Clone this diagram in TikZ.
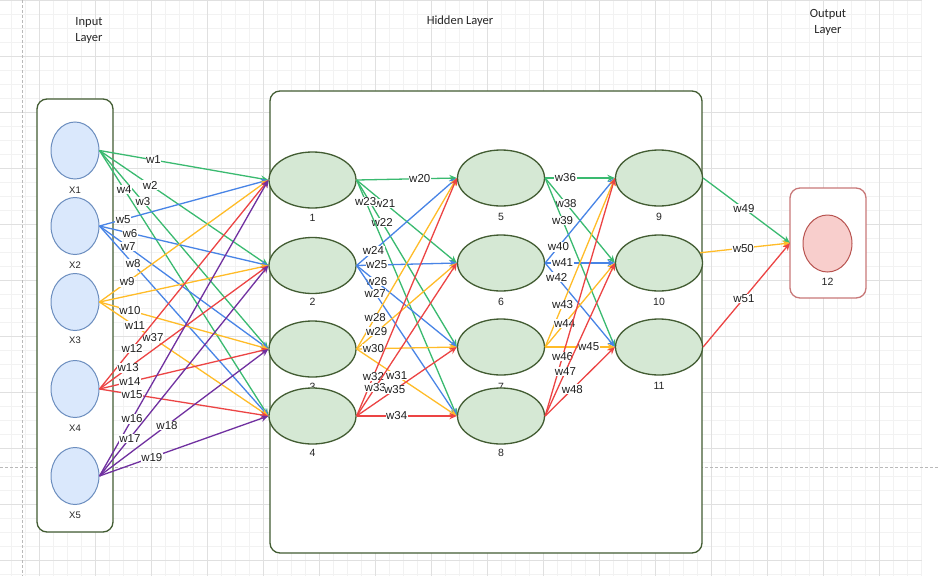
\documentclass[tikz,border=0pt]{standalone}
\usepackage{fontspec}
\setmainfont{Liberation Sans}
\newfontfamily\titlefont{Carlito}
\usetikzlibrary{shapes.geometric,arrows.meta}
\definecolor{cgreen}{RGB}{58,186,112}
\definecolor{cblue}{RGB}{72,132,230}
\definecolor{cyellow}{RGB}{255,188,40}
\definecolor{cred}{RGB}{236,68,68}
\definecolor{cpurple}{RGB}{112,48,160}
\definecolor{boxgreen}{RGB}{66,92,50}
\definecolor{inpfill}{RGB}{218,232,252}
\definecolor{inpstroke}{RGB}{108,142,191}
\definecolor{hidfill}{RGB}{213,232,212}
\definecolor{outfill}{RGB}{248,206,204}
\definecolor{outstroke}{RGB}{184,84,80}
\definecolor{outbox}{RGB}{200,120,120}
\definecolor{gminorc}{RGB}{242,242,242}
\definecolor{gmajorc}{RGB}{224,224,224}
\definecolor{gdashc}{RGB}{185,185,185}
\begin{document}
\begin{tikzpicture}[x=1pt,y=-1pt,
  gminor/.style={draw=gminorc,line width=0.6pt},
  gmajor/.style={draw=gmajorc,line width=0.9pt},
  gdash/.style={draw=gdashc,line width=0.6pt,dash pattern=on 3pt off 2pt},
  layerbox/.style={draw=boxgreen,fill=white,line width=1.3pt,rounded corners=10pt},
  obox/.style={draw=outbox,fill=white,line width=1.3pt,rounded corners=10pt},
  inp/.style={ellipse,draw=inpstroke,fill=inpfill,line width=1pt,minimum width=48pt,minimum height=57pt,inner sep=0pt},
  hid/.style={ellipse,draw=boxgreen,fill=hidfill,line width=1.3pt,minimum width=87pt,minimum height=56pt,inner sep=0pt},
  outn/.style={ellipse,draw=outstroke,fill=outfill,line width=1pt,minimum width=49pt,minimum height=57pt,inner sep=0pt},
  nlab/.style={font=\fontsize{10.5}{12}\selectfont,text=black!85,inner sep=0pt},
  xlab/.style={font=\fontsize{9.5}{11}\selectfont,text=black!85,inner sep=0pt},
  title/.style={font=\titlefont\fontsize{12.5}{16}\selectfont,text=black!85,align=center,inner sep=0pt},
  lab/.style={fill=white,inner sep=0.6pt,font=\fontsize{11.5}{12}\selectfont,text=black!88},
  e/.style={line width=1.3pt,-{Stealth[length=7.5pt,width=6.5pt]}}
]
\useasboundingbox (0,0) rectangle (940,576);
% background grid
\fill[white] (0,0) rectangle (940,576);
\foreach \i in {0,...,65} \draw[gminor] ({11.7+14*\i},0) -- ({11.7+14*\i},576);
\foreach \j in {0,...,41} \draw[gminor] (0,{0.3+14*\j}) -- (922,{0.3+14*\j});
\foreach \i in {0,...,15} \draw[gmajor] ({39.7+56*\i},0) -- ({39.7+56*\i},576);
\foreach \j in {0,...,10} \draw[gmajor] (0,{0.3+56*\j}) -- (922,{0.3+56*\j});
\draw[gdash] (22.7,0) -- (22.7,576);
\draw[gdash] (0,467.3) -- (940,467.3);

% titles
\node[title] (tin) at (89,30) {Input\\Layer};
\node[title] (thid) at (460,21.5) {Hidden Layer};
\node[title] (tout) at (828,22) {Output\\Layer};

% boxes
\draw[layerbox] (37,99) rectangle (113,532);
\draw[layerbox] (270,91) rectangle (702,553);
\draw[obox] (790,188) rectangle (866,298);
\coordinate (OB) at (790,243);

% input nodes
\node[inp] (X1) at (75,150.5) {};
\node[xlab] (lX1) at (75,190) {X1};
\node[inp] (X2) at (75,226) {};
\node[xlab] (lX2) at (75,265) {X2};
\node[inp] (X3) at (75,302) {};
\node[xlab] (lX3) at (75,340) {X3};
\node[inp] (X4) at (75,389) {};
\node[xlab] (lX4) at (75,428) {X4};
\node[inp] (X5) at (75,476) {};
\node[xlab] (lX5) at (75,515) {X5};

% hidden nodes
\node[hid] (H1) at (312.5,180) {};
\node[nlab] (l1) at (312.5,218) {1};
\node[hid] (H2) at (312.5,265.5) {};
\node[nlab] (l2) at (312.5,302) {2};
\node[hid] (H3) at (312.5,349) {};
\node[nlab] (l3) at (312.5,387) {3};
\node[hid] (H4) at (312.5,416) {};
\node[nlab] (l4) at (312.5,453) {4};
\node[hid] (H5) at (501,178) {};
\node[nlab] (l5) at (501,217) {5};
\node[hid] (H6) at (501,263) {};
\node[nlab] (l6) at (501,302) {6};
\node[hid] (H7) at (501,347) {};
\node[nlab] (l7) at (501,387) {7};
\node[hid] (H8) at (501,416) {};
\node[nlab] (l8) at (501,453) {8};
\node[hid] (H9) at (659,178) {};
\node[nlab] (l9) at (659,217) {9};
\node[hid] (H10) at (659,263) {};
\node[nlab] (l10) at (659,302) {10};
\node[hid] (H11) at (659,347) {};
\node[nlab] (l11) at (659,386) {11};

% output node
\node[outn] (O) at (827.5,243.5) {};
\node[nlab] (l12) at (827.5,282) {12};

% input -> hidden 1
\draw[e,cgreen] (X1.east) -- node[lab,pos=.32]{w1} (H1.west);
\draw[e,cgreen] (X1.east) -- node[lab,pos=.30]{w2} (H2.west);
\draw[e,cgreen] (X1.east) -- node[lab,pos=.257]{w3} (H3.west);
\draw[e,cgreen] (X1.east) -- node[lab,pos=.146]{w4} (H4.west);
\draw[e,cblue] (X2.east) -- node[lab,pos=.14]{w5} (H1.west);
\draw[e,cblue] (X2.east) -- node[lab,pos=.18]{w6} (H2.west);
\draw[e,cblue] (X2.east) -- node[lab,pos=.17]{w7} (H3.west);
\draw[e,cblue] (X2.east) -- node[lab,pos=.20]{w8} (H4.west);
\draw[e,cyellow] (X3.east) -- node[lab,pos=.164]{w9} (H1.west);
\draw[e,cyellow] (X3.east) -- (H2.west);
\draw[e,cyellow] (X3.east) -- node[lab,pos=.18]{w10} (H3.west);
\draw[e,cyellow] (X3.east) -- node[lab,pos=.21]{w11} node[lab,pos=.316]{w37} (H4.west);
\draw[e,cred] (X4.east) -- node[lab,pos=.193]{w12} (H1.west);
\draw[e,cred] (X4.east) -- node[lab,pos=.17]{w13} (H2.west);
\draw[e,cred] (X4.east) -- node[lab,pos=.18]{w14} (H3.west);
\draw[e,cred] (X4.east) -- node[lab,pos=.193]{w15} (H4.west);
\draw[e,cpurple] (X5.east) -- node[lab,pos=.193]{w16} (H1.west);
\draw[e,cpurple] (X5.east) -- node[lab,pos=.18]{w17} (H2.west);
\draw[e,cpurple] (X5.east) -- node[lab,pos=.40]{w18} (H3.west);
\draw[e,cpurple] (X5.east) -- node[lab,pos=.31]{w19} (H4.west);

% hidden 1 -> hidden 2
\draw[e,cgreen] (H1.east) -- node[lab,pos=.63]{w20} (H5.west);
\draw[e,cgreen] (H1.east) -- node[lab,pos=.28]{w21} (H6.west);
\draw[e,cgreen] (H1.east) -- node[lab,pos=.255]{w22} (H7.west);
\draw[e,cgreen] (H1.east) -- node[lab,pos=.09]{w23} (H8.west);
\draw[e,cblue] (H2.east) -- node[lab,pos=.167]{w24} (H5.west);
\draw[e,cblue] (H2.east) -- node[lab,pos=.20]{w25} (H6.west);
\draw[e,cblue] (H2.east) -- node[lab,pos=.20]{w26} (H7.west);
\draw[e,cblue] (H2.east) -- node[lab,pos=.186]{w27} (H8.west);
\draw[e,cyellow] (H3.east) -- node[lab,pos=.186]{w28} (H5.west);
\draw[e,cyellow] (H3.east) -- node[lab,pos=.20]{w29} (H6.west);
\draw[e,cyellow] (H3.east) -- node[lab,pos=.167]{w30} (H7.west);
\draw[e,cyellow] (H3.east) -- node[lab,pos=.40]{w31} (H8.west);
\draw[e,cred] (H4.east) -- node[lab,pos=.167]{w32} (H5.west);
\draw[e,cred] (H4.east) -- node[lab,pos=.186]{w33} (H6.west);
\draw[e,cred] (H4.east) -- node[lab,pos=.38]{w35} (H7.west);
\draw[e,cred] (H4.east) -- node[lab,pos=.40]{w34} (H8.west);

% hidden 2 -> hidden 3
\draw[e,cgreen] (H5.east) -- node[lab,pos=.29]{w36} (H9.west);
\draw[e,cgreen] (H5.east) -- node[lab,pos=.30]{w38} (H10.west);
\draw[e,cgreen] (H5.east) -- node[lab,pos=.25]{w39} (H11.west);
\draw[e,cblue] (H6.east) -- node[lab,pos=.19]{w40} (H9.west);
\draw[e,cblue] (H6.east) -- node[lab,pos=.25]{w41} (H10.west);
\draw[e,cblue] (H6.east) -- node[lab,pos=.167]{w42} (H11.west);
\draw[e,cyellow] (H7.east) -- node[lab,pos=.25]{w43} (H9.west);
\draw[e,cyellow] (H7.east) -- node[lab,pos=.28]{w44} (H10.west);
\draw[e,cyellow] (H7.east) -- node[lab,pos=.625]{w45} (H11.west);
\draw[e,cred] (H8.east) -- node[lab,pos=.25]{w46} (H9.west);
\draw[e,cred] (H8.east) -- node[lab,pos=.29]{w47} (H10.west);
\draw[e,cred] (H8.east) -- node[lab,pos=.39]{w48} (H11.west);

% hidden 3 -> output
\draw[e,cgreen] (H9.east) -- node[lab,pos=.47]{w49} (OB);
\draw[e,cyellow] (H10.14) -- node[lab,pos=.48]{w50} (OB);
\draw[e,cred] (H11.east) -- node[lab,pos=.47]{w51} (OB);
\end{tikzpicture}
\end{document}
